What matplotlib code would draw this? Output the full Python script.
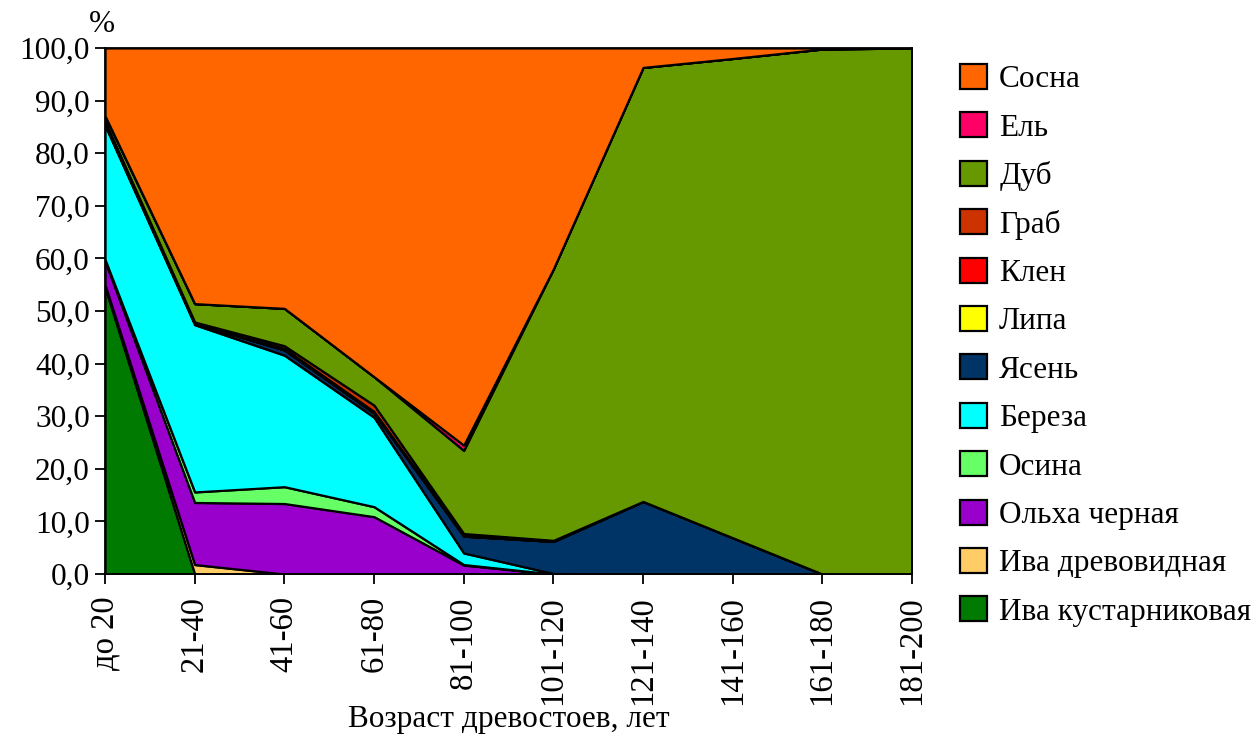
import matplotlib
matplotlib.use("Agg")
import matplotlib.pyplot as plt
import numpy as np

plt.rcParams["font.family"] = ["Liberation Serif", "DejaVu Serif"]

ages = ["до 20", "21-40", "41-60", "61-80", "81-100",
        "101-120", "121-140", "141-160", "161-180", "181-200"]

# stack order, bottom to top
iva_kust = [54.5, 0.0, 0.0, 0.0, 0.0, 0.0, 0.0, 0.0, 0.0, 0.0]
iva_drev = [0.5, 1.8, 0.0, 0.0, 0.0, 0.0, 0.0, 0.0, 0.0, 0.0]
olha = [4.5, 11.8, 13.4, 10.9, 1.7, 0.0, 0.0, 0.0, 0.0, 0.0]
osina = [0.3, 2.0, 3.2, 1.9, 0.1, 0.0, 0.0, 0.0, 0.0, 0.0]
bereza = [25.5, 31.8, 25.0, 17.0, 2.2, 0.1, 0.0, 0.0, 0.0, 0.0]
yasen = [0.3, 0.2, 1.0, 0.8, 3.2, 6.1, 13.8, 6.9, 0.0, 0.0]
lipa = [0.0, 0.0, 0.0, 0.0, 0.0, 0.0, 0.0, 0.0, 0.0, 0.0]
klen = [0.2, 0.1, 0.3, 0.3, 0.2, 0.0, 0.0, 0.0, 0.0, 0.0]
grab = [0.3, 0.2, 0.5, 1.2, 0.3, 0.2, 0.0, 0.0, 0.0, 0.0]
dub = [1.0, 3.5, 7.1, 5.4, 15.8, 51.6, 82.5, 91.1, 99.8, 100.0]
el = [0.0, 0.0, 0.0, 0.0, 1.0, 0.0, 0.0, 0.0, 0.0, 0.0]
sosna = [12.9, 48.6, 49.5, 62.5, 75.5, 42.0, 3.7, 2.0, 0.2, 0.0]

series = [iva_kust, iva_drev, olha, osina, bereza, yasen,
          lipa, klen, grab, dub, el, sosna]
names = ["Ива кустарниковая", "Ива древовидная", "Ольха черная", "Осина",
         "Береза", "Ясень", "Липа", "Клен", "Граб", "Дуб", "Ель", "Сосна"]
colors = ["#007A00", "#FFCC66", "#9900CC", "#66FF66", "#00FFFF", "#003366",
          "#FFFF00", "#FF0000", "#CC3300", "#669900", "#FF0066", "#FF6600"]

fs = 22.5
fig = plt.figure(figsize=(12.55, 7.38), dpi=100)
ax = fig.add_axes([0.0837, 0.2222, 0.643, 0.7128])

x = np.arange(len(ages))
polys = ax.stackplot(x, *series, colors=colors, labels=names,
                     edgecolor="black", linewidth=1.6)

ax.set_xlim(0, len(ages) - 1)
ax.set_ylim(0, 100)
ax.set_yticks(np.arange(0, 101, 10))
ax.set_yticklabels([f"{v:.1f}".replace(".", ",") for v in range(0, 101, 10)],
                   fontsize=fs)
ax.set_xticks(x)
ax.set_xticklabels(ages, rotation=90, fontsize=fs + 1)
ax.tick_params(direction="out", length=7, width=1.3, pad=4)
ax.tick_params(axis="x", pad=9)
for s in ax.spines.values():
    s.set_linewidth(1.3)

fig.text(508.5 / 1255, 1 - 719 / 738, "Возраст древостоев, лет",
         fontsize=fs, ha="center", va="center")
fig.text(0.0815, 1 - 25 / 738, "%", fontsize=fs, ha="center", va="center")

handles = polys[::-1]
labels = names[::-1]
ax.legend(handles, labels, loc="center left", bbox_to_anchor=(0.765, 0.532),
          bbox_transform=fig.transFigure, frameon=False, fontsize=fs,
          borderpad=0, borderaxespad=0, handlelength=0.85, handleheight=0.85,
          handletextpad=0.4, labelspacing=0.58)

fig.savefig("out.png", dpi=100)
